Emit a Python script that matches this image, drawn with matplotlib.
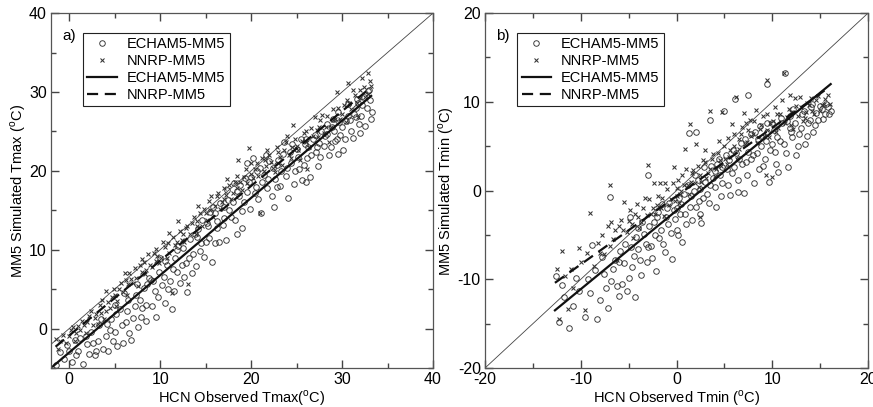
import numpy as np
import matplotlib.pyplot as plt

plt.rcParams['font.family'] = ['Liberation Sans', 'DejaVu Sans']
plt.rcParams['mathtext.fontset'] = 'custom'
plt.rcParams['mathtext.rm'] = 'Liberation Sans'
plt.rcParams['axes.unicode_minus'] = False

# ---- panel a) Tmax : (observed, simulated) pairs
ech_tmax = np.array([
    (-1.4, -4.6), (-1.0, -3.0), (-0.6, -3.9), (-0.2, -2.1), (0.3, -4.2), (0.6, -1.5), (1.0, -2.8),
    (1.5, -4.5), (1.8, -0.9), (2.2, -3.2), (2.6, -1.8), (3.0, -2.9), (3.3, 0.4), (3.7, -2.6),
    (4.0, -1.0), (4.3, -2.8), (4.6, 1.2), (5.0, -0.4), (5.3, -2.2), (5.6, 2.5), (5.9, -1.8),
    (6.2, 0.8), (6.5, 3.6), (6.8, -1.4), (7.0, 1.3), (7.3, 4.2), (7.6, 0.2), (7.9, 1.5),
    (8.2, 5.1), (8.5, 3.0), (8.8, 6.4), (9.1, 2.9), (9.4, 4.8), (9.6, 1.5), (9.9, 7.2),
    (10.2, 5.5), (10.5, 3.2), (10.8, 8.1), (11.1, 6.0), (11.3, 2.5), (11.6, 9.0), (11.9, 7.2),
    (12.2, 5.8), (12.5, 10.2), (12.8, 8.3), (13.0, 4.6), (13.3, 11.4), (13.6, 9.5), (13.9, 7.9),
    (14.2, 12.6), (14.5, 10.8), (14.8, 9.1), (15.1, 13.4), (15.4, 11.5), (15.7, 8.4), (16.0, 14.6),
    (16.3, 12.7), (16.6, 15.9), (16.9, 13.1), (17.2, 11.2), (17.5, 16.3), (17.8, 14.2), (18.1, 18.4),
    (18.4, 12.0), (18.7, 16.8), (19.0, 14.9), (19.3, 19.1), (19.6, 17.3), (19.9, 15.2), (20.2, 21.6),
    (20.5, 18.0), (20.8, 16.4), (21.1, 14.6), (21.4, 19.5), (21.7, 17.8), (22.0, 21.2), (22.3, 16.8),
    (22.6, 19.0), (22.9, 20.7), (23.2, 18.1), (23.5, 22.1), (23.8, 19.4), (24.1, 16.5), (24.4, 21.0),
    (24.7, 18.3), (25.0, 22.8), (25.3, 20.2), (25.6, 18.8), (25.9, 23.4), (26.2, 21.6), (26.5, 19.2),
    (26.8, 24.1), (27.1, 22.4), (27.4, 20.6), (27.7, 25.0), (28.0, 23.2), (28.3, 24.7), (28.6, 22.0),
    (28.9, 25.6), (29.2, 23.8), (29.5, 27.4), (29.8, 24.6), (30.1, 22.6), (30.4, 26.3), (30.7, 28.5),
    (31.0, 25.1), (31.3, 27.2), (31.6, 29.1), (31.9, 26.0), (32.2, 28.3), (32.5, 25.7), (32.8, 30.1),
    (33.1, 29.0), (33.3, 27.4),
    (3.5, 1.2), (5.0, 3.0), (6.0, 4.5), (7.5, 5.6), (9.0, 6.2), (10.5, 8.6), (12.0, 10.5),
    (14.0, 11.6), (15.5, 14.8), (17.0, 15.4), (18.5, 17.5), (20.0, 19.2), (21.0, 20.4), (23.0, 21.4),
    (24.5, 23.4), (26.0, 24.0), (27.5, 23.5), (29.0, 26.6), (31.5, 28.0), (4.5, -0.2), (8.0, 2.6),
    (11.5, 4.8), (13.5, 7.0), (16.0, 10.8), (19.0, 12.8), (22.5, 15.4), (26.0, 18.6), (29.5, 22.1),
    (32.0, 24.8),
    (0.0, -2.8), (0.8, -3.4), (1.2, -1.2), (2.0, -2.0), (2.4, -0.4), (2.8, -3.4), (3.2, -1.6),
    (4.2, 0.6), (4.8, -1.6), (5.2, 1.8), (5.8, 0.4), (6.4, 2.2), (6.6, -0.6), (7.2, 2.8),
    (7.8, 3.6), (8.4, 1.0), (8.6, 5.6), (9.2, 6.0), (9.8, 4.0), (10.0, 9.0), (10.4, 6.6),
    (10.9, 5.0), (11.4, 7.6), (11.8, 10.0), (12.4, 8.0), (12.6, 6.6), (13.2, 9.0), (13.8, 12.0),
    (14.4, 9.8), (14.6, 13.8), (15.0, 11.0), (15.3, 13.0), (15.8, 15.4), (16.2, 13.6), (16.5, 11.0),
    (17.0, 14.0), (17.4, 17.6), (17.6, 15.0), (18.0, 16.0), (18.2, 13.8), (18.8, 18.2), (19.2, 16.0),
    (19.5, 21.0), (19.8, 18.6), (20.4, 17.2), (20.6, 20.0), (21.2, 18.6), (21.6, 22.0), (21.9, 19.0),
    (22.4, 20.4), (22.8, 18.0), (23.3, 20.0), (23.6, 23.6), (24.0, 20.4), (24.3, 22.4), (24.8, 20.0),
    (25.2, 21.8), (25.5, 24.0), (25.8, 20.8), (26.3, 23.0), (26.6, 22.0), (27.0, 24.6), (27.3, 23.0),
    (27.6, 21.8), (28.1, 24.4), (28.4, 26.0), (28.8, 23.0), (29.1, 25.0), (29.4, 24.0), (29.7, 26.2),
    (30.0, 25.6), (30.3, 24.0), (30.6, 27.0), (30.9, 26.4), (31.2, 24.2), (31.5, 26.8), (31.8, 28.6),
    (32.1, 27.0), (32.4, 29.4), (32.7, 28.0), (33.0, 30.2), (33.2, 26.6),
])
nnrp_tmax = np.array([
    (-1.5, -1.3), (-1.2, -2.6), (-0.7, -0.8), (-0.3, -1.8), (0.2, -0.2), (0.6, -1.6), (1.0, 0.3),
    (1.4, 1.0), (1.8, -0.6), (2.2, 1.6), (2.6, 0.4), (3.0, 1.9), (3.4, 3.0), (3.8, 1.2),
    (4.1, 4.8), (4.5, 2.6), (4.9, 5.0), (5.3, 3.5), (5.7, 5.8), (6.1, 7.0), (6.4, 4.2),
    (6.8, 6.3), (7.2, 7.7), (7.6, 5.4), (8.0, 8.8), (8.3, 6.9), (8.7, 9.4), (9.1, 7.8),
    (9.5, 10.1), (9.9, 8.3), (10.3, 11.0), (10.7, 9.0), (11.0, 12.1), (11.3, 4.5), (11.6, 10.6),
    (12.0, 13.7), (12.4, 11.2), (12.8, 12.8), (13.1, 5.6), (13.5, 13.4), (13.9, 12.0), (14.2, 15.6),
    (14.6, 13.0), (15.0, 14.7), (15.4, 16.2), (15.8, 14.1), (16.2, 16.8), (16.6, 15.2), (17.0, 17.8),
    (17.4, 19.0), (17.8, 16.4), (18.2, 18.6), (18.6, 21.4), (19.0, 17.6), (19.4, 20.2), (19.8, 22.9),
    (20.2, 19.1), (20.6, 21.0), (21.0, 14.6), (21.4, 20.0), (21.8, 22.7), (22.2, 21.1), (22.6, 19.8),
    (23.0, 22.4), (23.4, 20.7), (23.8, 23.6), (24.2, 22.0), (24.6, 25.8), (25.0, 23.1), (25.4, 21.4),
    (25.8, 24.8), (26.2, 20.2), (26.6, 25.4), (27.0, 26.8), (27.4, 24.3), (27.8, 27.1), (28.2, 25.6),
    (28.6, 23.6), (29.0, 27.8), (29.4, 30.0), (29.8, 26.6), (30.2, 28.4), (30.6, 31.1), (31.0, 27.9),
    (31.4, 29.6), (31.8, 26.8), (32.2, 31.8), (32.5, 29.4), (32.9, 32.4), (33.2, 30.7),
    (2.0, 0.8), (3.5, 2.0), (5.0, 4.2), (6.5, 5.6), (8.0, 7.2), (9.5, 8.6), (11.0, 9.6),
    (12.5, 12.0), (14.0, 13.6), (15.5, 15.0), (17.0, 16.4), (18.5, 17.8), (20.0, 19.6), (21.5, 21.4),
    (23.0, 21.0), (24.5, 23.0), (26.0, 23.6), (27.5, 25.6), (29.0, 26.4), (30.5, 29.0), (32.0, 30.2),
    (-1.0, -1.6), (0.0, -1.0), (0.4, 0.2), (0.8, -0.6), (1.2, -0.2), (1.6, 0.4), (2.4, 2.2),
    (2.8, 1.4), (3.2, 0.6), (3.6, 3.6), (4.0, 2.2), (4.3, 3.4), (4.7, 4.0), (5.1, 2.8),
    (5.5, 5.0), (5.9, 4.6), (6.3, 6.2), (6.6, 7.0), (7.0, 5.8), (7.4, 6.4), (7.8, 8.0),
    (8.2, 8.4), (8.5, 7.4), (8.9, 8.0), (9.3, 9.6), (9.7, 9.2), (10.1, 9.0), (10.5, 10.4),
    (10.9, 10.8), (11.4, 11.6), (11.8, 11.0), (12.2, 12.4), (12.6, 11.0), (13.0, 13.0), (13.3, 12.0),
    (13.7, 14.2), (14.1, 13.0), (14.4, 14.6), (14.8, 15.2), (15.2, 13.8), (15.6, 16.8), (16.0, 15.6),
    (16.4, 17.2), (16.8, 16.0), (17.2, 17.0), (17.6, 18.2), (18.0, 17.2), (18.4, 19.4), (18.8, 18.6),
    (19.2, 19.2), (19.6, 18.4), (20.0, 21.0), (20.4, 20.2), (20.8, 19.4), (21.2, 21.6), (21.6, 20.6),
    (22.0, 22.0), (22.4, 20.4), (22.8, 23.0), (23.2, 21.8), (23.6, 22.6), (24.0, 24.4), (24.4, 21.6),
    (24.8, 24.0), (25.2, 22.6), (25.6, 23.8), (26.0, 25.0), (26.4, 23.0), (26.8, 24.4), (27.2, 25.2),
    (27.6, 26.4), (28.0, 24.8), (28.4, 27.0), (28.8, 25.6), (29.2, 26.6), (29.6, 28.0), (30.0, 27.2),
    (30.4, 26.2), (30.8, 28.6), (31.2, 30.2), (31.6, 28.6), (32.0, 29.2), (32.4, 30.6), (32.8, 29.8),
    (33.1, 31.4),
])
# fitted regression lines (end points)
ech_tmax_fit_x = [-1.8, 33.2]
ech_tmax_fit_y = [-4.8, 29.5]
nnrp_tmax_fit_x = [-1.5, 33.2]
nnrp_tmax_fit_y = [-2.3, 30.6]

# ---- panel b) Tmin
ech_tmin = np.array([
    (-12.6, -9.6), (-12.3, -14.8), (-12.0, -10.7), (-11.2, -15.5), (-10.8, -13.0), (-10.2, -11.3),
    (-9.6, -14.2), (-9.2, -10.0), (-8.8, -6.1), (-8.3, -14.5), (-8.0, -12.3), (-7.6, -9.4),
    (-7.2, -13.2), (-7.0, -0.7), (-6.8, -10.2), (-6.4, -7.8), (-6.0, -11.9), (-5.7, -10.5),
    (-5.4, -6.0), (-5.2, -11.3), (-4.9, -3.0), (-4.6, -8.6), (-4.3, -12.0), (-4.0, -6.6),
    (-3.7, -9.5), (-3.4, -4.9), (-3.1, -8.0), (-3.0, 1.8), (-2.7, -6.2), (-2.4, -3.5),
    (-2.1, -9.1), (-1.8, -5.3), (-1.5, -1.5), (-1.2, -6.9), (-0.9, -3.8), (-0.5, -7.7),
    (-0.3, -2.2), (0.0, -4.4), (0.3, -0.8), (0.6, -5.8), (0.9, -2.6), (1.2, 0.6), (1.3, 6.5),
    (1.6, -3.3), (1.9, 1.8), (2.0, 6.6), (2.3, -1.2), (2.6, -3.7), (2.9, 2.6), (3.2, -0.4),
    (3.5, 8.0), (3.8, 1.4), (4.1, -1.8), (4.4, 3.6), (4.7, 0.8), (5.0, 9.0), (5.3, 2.4),
    (5.6, -0.5), (5.9, 4.6), (6.1, 10.3), (6.4, 1.2), (6.7, 5.4), (7.0, -0.3), (7.3, 3.2),
    (7.5, 10.8), (7.8, 6.4), (8.1, 0.9), (8.4, 4.2), (8.7, 7.3), (9.0, 2.8), (9.3, 5.6),
    (9.5, 12.0), (9.7, 1.0), (10.0, 7.6), (10.3, 4.4), (10.6, 2.1), (10.9, 8.2), (11.2, 5.2),
    (11.3, 13.2), (11.6, 2.6), (11.9, 7.0), (12.2, 9.2), (12.5, 4.0), (12.8, 6.4), (13.1, 8.6),
    (13.4, 5.3), (13.7, 7.6), (14.0, 9.4), (14.3, 6.6), (14.6, 8.7), (15.0, 9.5), (15.3, 8.1),
    (15.6, 9.8), (15.9, 8.6), (16.1, 9.0),
    (-6.0, -8.0), (-4.0, -4.2), (-2.0, -3.0), (-1.0, -2.0), (0.5, -1.5), (1.5, -0.6), (2.5, 0.2),
    (3.5, 0.6), (4.5, 1.8), (5.5, 3.4), (6.5, 3.6), (7.5, 4.4), (8.5, 5.8), (9.5, 6.6),
    (10.5, 6.0), (11.5, 7.8), (-3.0, -6.4), (0.0, -2.0), (2.0, -1.8), (4.0, 2.2), (6.0, 2.6),
    (8.0, 4.0), (10.0, 5.2), (12.0, 6.6),
    (-11.8, -12.0), (-10.5, -9.8), (-9.0, -11.5), (-8.5, -9.0), (-7.8, -7.5), (-7.4, -11.0),
    (-6.6, -8.8), (-6.2, -10.8), (-5.9, -6.8), (-5.5, -8.2), (-5.0, -9.8), (-4.8, -6.4),
    (-4.4, -7.4), (-4.2, -5.2), (-3.8, -7.8), (-3.6, -3.6), (-3.2, -6.0), (-2.9, -4.0),
    (-2.6, -7.6), (-2.2, -5.0), (-1.9, -2.4), (-1.6, -4.4), (-1.4, -6.0), (-1.1, -3.0),
    (-0.8, -1.4), (-0.6, -4.8), (-0.2, -3.2), (0.2, -5.0), (0.4, -2.6), (0.8, -0.4), (1.0, -3.8),
    (1.4, -1.8), (1.8, 0.0), (2.2, 1.2), (2.4, -2.6), (2.8, -0.8), (3.0, 1.0), (3.4, -1.4),
    (3.6, 2.8), (4.0, 0.4), (4.2, 3.0), (4.6, -0.6), (4.8, 2.6), (5.2, 4.0), (5.4, 0.6),
    (5.8, 2.0), (6.2, 4.2), (6.4, -0.2), (6.8, 3.0), (7.2, 5.8), (7.4, 1.8), (7.8, 3.6),
    (8.2, 6.6), (8.6, 2.4), (8.8, 5.0), (9.2, 3.6), (9.4, 7.6), (9.8, 4.6), (10.2, 6.8),
    (10.4, 3.0), (10.8, 5.6), (11.0, 7.6), (11.4, 4.2), (11.8, 8.4), (12.1, 6.0), (12.4, 7.6),
    (12.7, 5.0), (13.0, 7.0), (13.3, 9.0), (13.6, 6.2), (13.9, 8.0), (14.2, 9.8), (14.5, 7.4),
    (14.8, 8.0), (15.2, 9.2), (15.5, 8.6), (15.8, 9.4),
])
nnrp_tmin = np.array([
    (-12.5, -8.8), (-12.3, -14.5), (-12.0, -6.8), (-11.6, -9.6), (-11.3, -13.3), (-10.8, -11.0),
    (-10.2, -6.5), (-9.6, -13.5), (-9.3, -7.0), (-9.0, -2.5), (-8.6, -8.5), (-8.2, -5.9),
    (-7.6, -7.2), (-7.2, -4.0), (-7.0, 0.6), (-6.6, -5.5), (-6.2, -7.8), (-5.8, -3.3),
    (-5.5, -1.3), (-5.2, -4.7), (-4.9, -2.2), (-4.5, -5.3), (-4.1, -1.5), (-3.7, -3.6),
    (-3.3, -0.8), (-3.0, 2.9), (-2.7, -2.6), (-2.4, 0.8), (-2.0, -1.6), (-1.7, 0.9),
    (-1.3, -2.9), (-1.0, 0.2), (-0.6, -0.9), (-0.3, 2.6), (0.0, 0.3), (0.3, -1.4), (0.6, 1.7),
    (0.9, 4.7), (1.2, 0.6), (1.4, 7.5), (1.7, 2.3), (2.0, 5.2), (2.3, 0.4), (2.5, -3.0),
    (2.8, 3.5), (3.1, 1.4), (3.5, 9.0), (3.8, 4.1), (4.1, 2.4), (4.4, 5.6), (4.8, 8.9),
    (5.1, 3.6), (5.4, 5.9), (5.8, 7.5), (6.2, 10.5), (6.5, 4.7), (6.8, 7.2), (7.0, 8.7),
    (7.4, 5.5), (7.7, 8.0), (8.0, 6.4), (8.3, 9.1), (8.7, 6.9), (9.0, 8.4), (9.3, 1.8),
    (9.5, 12.5), (9.8, 7.6), (10.0, 1.5), (10.3, 9.4), (10.6, 7.1), (11.0, 10.2), (11.2, 13.2),
    (11.5, 8.3), (11.9, 10.8), (12.2, 6.9), (12.5, 9.5), (12.9, 10.6), (13.2, 7.8), (13.6, 9.9),
    (14.0, 10.4), (14.4, 8.6), (14.8, 10.7), (15.2, 9.6), (15.5, 10.3), (15.8, 10.8), (16.0, 9.7),
    (-4.0, -3.0), (-2.5, -2.0), (-1.5, -0.8), (0.5, 0.0), (1.5, 1.0), (2.5, 1.8), (3.5, 2.4),
    (4.5, 3.4), (5.5, 3.8), (6.5, 5.8), (7.5, 6.8), (8.5, 6.0), (9.5, 6.8), (10.5, 8.6),
    (12.0, 8.8), (13.5, 8.8), (-6.0, -4.0), (0.0, -0.6), (3.0, 4.6), (6.0, 6.4),
    (-11.0, -8.8), (-10.0, -8.0), (-8.0, -7.0), (-7.8, -5.0), (-7.0, -6.2), (-6.8, -3.6),
    (-6.4, -4.4), (-5.6, -4.4), (-5.0, -3.4), (-4.7, -3.8), (-4.3, -2.6), (-3.9, -4.2),
    (-3.5, -2.0), (-3.1, -2.8), (-2.9, -1.0), (-2.2, -2.6), (-1.9, -0.6), (-1.6, -2.0),
    (-1.2, 0.8), (-0.8, -1.6), (-0.4, 0.8), (-0.2, -1.2), (0.2, 1.2), (0.4, -0.4), (0.8, 0.6),
    (1.0, 2.4), (1.3, -0.4), (1.6, 2.0), (1.9, 0.8), (2.2, 2.8), (2.6, 1.0), (3.0, 3.2),
    (3.3, 2.0), (3.7, 3.6), (4.0, 1.6), (4.3, 4.2), (4.6, 2.8), (5.0, 5.0), (5.3, 3.0),
    (5.6, 4.6), (6.0, 5.0), (6.3, 3.6), (6.7, 6.4), (7.1, 5.2), (7.3, 7.6), (7.8, 6.2),
    (8.1, 7.8), (8.4, 5.4), (8.8, 7.4), (9.1, 6.2), (9.4, 8.6), (9.7, 6.0), (10.1, 7.8),
    (10.4, 6.6), (10.8, 8.6), (11.3, 7.6), (11.7, 9.2), (12.0, 7.4), (12.4, 10.4), (12.7, 8.4),
    (13.0, 9.4), (13.4, 8.2), (13.8, 9.6), (14.2, 9.0), (14.6, 10.2), (15.0, 9.0), (15.4, 9.8),
])
ech_tmin_fit_x = [-12.7, 16.1]
ech_tmin_fit_y = [-13.5, 12.0]
nnrp_tmin_fit_x = [-12.7, 16.0]
nnrp_tmin_fit_y = [-10.4, 11.7]

panels = [
    dict(ech=ech_tmax, nnrp=nnrp_tmax,
         efx=ech_tmax_fit_x, efy=ech_tmax_fit_y, nfx=nnrp_tmax_fit_x, nfy=nnrp_tmax_fit_y,
         xlim=(-2, 40), ylim=(-5, 40), ticks=[0, 10, 20, 30, 40], tag='a)',
         xlabel=r'HCN Observed Tmax($^{\rm o}$C)', ylabel=r'MM5 Simulated Tmax ($^{\rm o}$C)',
         pos=[0.0584, 0.0958, 0.4376, 0.872]),
    dict(ech=ech_tmin, nnrp=nnrp_tmin,
         efx=ech_tmin_fit_x, efy=ech_tmin_fit_y, nfx=nnrp_tmin_fit_x, nfy=nnrp_tmin_fit_y,
         xlim=(-20, 20), ylim=(-20, 20), ticks=[-20, -10, 0, 10, 20], tag='b)',
         xlabel=r'HCN Observed Tmin ($^{\rm o}$C)', ylabel=r'MM5 Simulated Tmin ($^{\rm o}$C)',
         pos=[0.5556, 0.0958, 0.4387, 0.872]),
]

fig = plt.figure(figsize=(8.73, 4.07), dpi=100)
mc = '#333333'

for p in panels:
    ax = fig.add_axes(p['pos'])
    d0 = min(p['xlim'][0], p['ylim'][0])
    d1 = max(p['xlim'][1], p['ylim'][1])
    ax.plot([d0, d1], [d0, d1], color='#444444', lw=0.6)
    ax.plot(p['ech'][:, 0], p['ech'][:, 1], 'o', ms=4.0, mfc='none', mec=mc, mew=0.65,
            label='ECHAM5-MM5')
    ax.plot(p['nnrp'][:, 0], p['nnrp'][:, 1], 'x', ms=3.5, color=mc, mew=0.75,
            label='NNRP-MM5')
    ax.plot(p['efx'], p['efy'], '-', color='#111111', lw=1.6, label='ECHAM5-MM5')
    ax.plot(p['nfx'], p['nfy'], '--', color='#111111', lw=1.6, dashes=(5, 3),
            label='NNRP-MM5')
    ax.set_xticks(p['ticks'])
    ax.set_yticks(p['ticks'])
    ax.set_xticks(np.arange(p['ticks'][0] - 5, p['ticks'][-1] + 5, 5), minor=True)
    ax.set_yticks(np.arange(p['ticks'][0] - 5, p['ticks'][-1] + 5, 5), minor=True)
    ax.set_xlim(*p['xlim'])
    ax.set_ylim(*p['ylim'])
    ax.tick_params(which='both', direction='in', top=True, right=True, color='#444444',
                   labelsize=11.5, pad=3)
    ax.tick_params(which='major', length=6, width=1.0)
    ax.tick_params(which='minor', length=3.5, width=1.0)
    for s in ax.spines.values():
        s.set_color('#555555')
        s.set_linewidth(0.9)
    ax.set_xlabel(p['xlabel'], fontsize=10.5, labelpad=1)
    ax.set_ylabel(p['ylabel'], fontsize=10.5, labelpad=1)
    ax.text(0.03, 0.935, p['tag'], transform=ax.transAxes, fontsize=11, va='center')
    leg = ax.legend(loc='upper left', bbox_to_anchor=(0.084, 0.944), fontsize=10.5,
                    fancybox=False, framealpha=1, edgecolor='#222222', handlelength=2.0,
                    borderpad=0.3, labelspacing=0.2, handletextpad=0.7, borderaxespad=0)
    leg.get_frame().set_linewidth(0.8)

fig.savefig('out.png', dpi=100)
